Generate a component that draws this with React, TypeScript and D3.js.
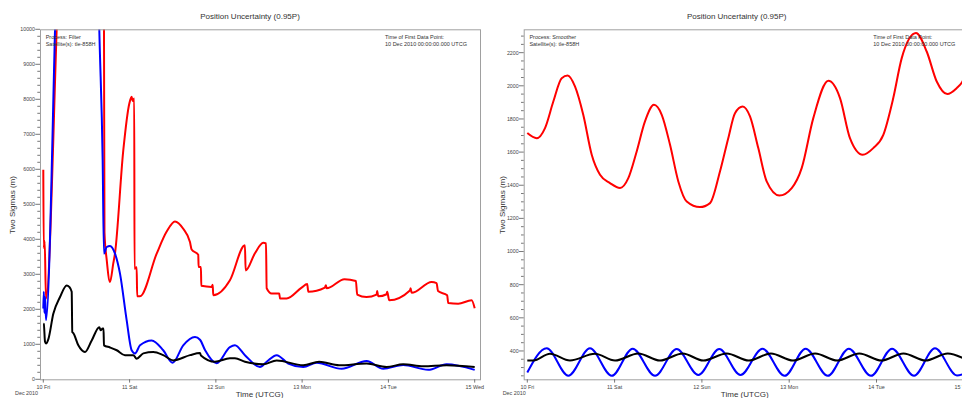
import React from 'react';
import * as d3 from 'd3';

// ---- tick labels ----
const dayLabels = ['10 Fri', '11 Sat', '12 Sun', '13 Mon', '14 Tue', '15 Wed'];
const dayTicks = [0, 1, 2, 3, 4, 5];
const filterYTicks = [0, 1000, 2000, 3000, 4000, 5000, 6000, 7000, 8000, 9000, 10000];
const smootherYTicks = [400, 600, 800, 1000, 1200, 1400, 1600, 1800, 2000, 2200];

// ---- Filter (left) : time in days since 10 Dec 00:00, value in m ----
const filterRedT = [0, 0.005, 0.016, 0.031, 0.155, 0.2, 0.69, 0.703, 0.709, 0.735, 0.773, 0.811, 0.831, 0.927, 0.997, 1.024, 1.036, 1.054, 1.057, 1.082, 1.088, 1.12, 1.314, 1.43, 1.526, 1.622, 1.7, 1.719, 1.796, 1.8, 1.827, 1.831, 1.951, 1.963, 1.97, 2.163, 2.337, 2.345, 2.453, 2.549, 2.581, 2.589, 2.647, 2.735, 2.743, 2.82, 2.994, 3.059, 3.071, 3.264, 3.275, 3.284, 3.491, 3.623, 3.638, 3.746, 3.863, 3.869, 3.882, 3.979, 3.986, 4.009, 4.249, 4.257, 4.269, 4.501, 4.558, 4.575, 4.681, 4.693, 4.809, 4.964, 5.0];
const filterRedV = [5990, 3750, 3950, 2300, 10000, 13500, 13500, 10500, 4200, 3410, 2780, 3310, 3600, 6540, 7880, 8070, 7950, 8020, 3160, 3200, 2370, 2370, 3590, 4220, 4510, 4300, 3920, 3710, 3560, 3210, 3210, 2670, 2640, 2700, 2400, 2830, 3830, 3110, 3600, 3900, 3880, 2600, 2450, 2450, 2310, 2310, 2620, 2720, 2500, 2620, 2690, 2600, 2860, 2810, 2420, 2350, 2420, 2520, 2370, 2430, 2500, 2260, 2540, 2600, 2470, 2780, 2750, 2520, 2400, 2180, 2160, 2260, 2030];

const filterBlueT = [0, 0.006, 0.013, 0.022, 0.031, 0.136, 0.17, 0.62, 0.649, 0.688, 0.703, 0.735, 0.773, 0.831, 0.889, 0.966, 1.024, 1.063, 1.121, 1.256, 1.39, 1.499, 1.622, 1.758, 1.816, 1.874, 2.009, 2.163, 2.221, 2.337, 2.511, 2.589, 2.705, 2.839, 3.013, 3.168, 3.458, 3.747, 3.94, 4.171, 4.461, 4.674, 5.0];
const filterBlueV = [2020, 2500, 1900, 2350, 1690, 10000, 13500, 13500, 10000, 6260, 3590, 3780, 3810, 3590, 3020, 1690, 830, 740, 970, 1110, 830, 470, 970, 1210, 1130, 840, 460, 920, 970, 690, 350, 500, 690, 450, 350, 470, 300, 520, 300, 410, 270, 430, 270];

const filterBlackT = [0, 0.006, 0.02, 0.031, 0.058, 0.116, 0.194, 0.271, 0.301, 0.329, 0.336, 0.348, 0.406, 0.483, 0.561, 0.649, 0.665, 0.688, 0.698, 0.703, 0.773, 0.851, 0.947, 1.043, 1.082, 1.159, 1.275, 1.39, 1.506, 1.7, 1.816, 1.827, 1.99, 2.163, 2.221, 2.337, 2.549, 2.705, 3.013, 3.197, 3.429, 3.747, 3.979, 4.171, 4.403, 4.674, 5.0];
const filterBlackV = [1590, 1580, 1070, 1020, 1140, 1870, 2350, 2680, 2640, 2500, 1350, 1320, 970, 780, 1110, 1490, 1400, 1450, 1450, 970, 910, 830, 690, 690, 590, 740, 780, 690, 540, 690, 750, 680, 500, 600, 600, 500, 430, 540, 400, 500, 400, 450, 350, 430, 370, 400, 350];

// ---- Smoother (right) ----
const smoothRedT = [0, 0.108, 0.203, 0.298, 0.394, 0.463, 0.546, 0.641, 0.738, 0.833, 0.947, 1.062, 1.157, 1.253, 1.348, 1.451, 1.54, 1.635, 1.73, 1.826, 1.978, 2.093, 2.207, 2.302, 2.379, 2.467, 2.551, 2.646, 2.742, 2.887, 3.029, 3.143, 3.276, 3.448, 3.582, 3.696, 3.842, 3.963, 4.078, 4.192, 4.289, 4.452, 4.575, 4.69, 4.811, 4.919, 4.98, 5.0];
const smoothRedV = [1715, 1684, 1745, 1905, 2046, 2062, 1996, 1825, 1584, 1463, 1413, 1383, 1443, 1604, 1785, 1885, 1825, 1644, 1423, 1302, 1268, 1292, 1483, 1684, 1835, 1875, 1815, 1624, 1423, 1338, 1383, 1503, 1805, 2030, 1926, 1684, 1584, 1624, 1704, 1926, 2167, 2318, 2207, 2026, 1950, 1986, 2022, 2040];

const smoothBlueT = [0, 0.222, 0.47, 0.718, 0.967, 1.207, 1.463, 1.711, 1.959, 2.199, 2.442, 2.694, 2.948, 3.188, 3.442, 3.683, 3.937, 4.178, 4.43, 4.67, 4.922, 5.0];
const smoothBlueV = [270, 416, 250, 416, 250, 414, 250, 412, 255, 412, 255, 414, 250, 414, 250, 414, 250, 414, 250, 416, 252, 262];

const smoothBlackT = [0, 0.069, 0.26, 0.489, 0.775, 1.005, 1.271, 1.52, 1.78, 2.016, 2.284, 2.537, 2.79, 3.044, 3.297, 3.55, 3.803, 4.056, 4.309, 4.562, 4.816, 5.0];
const smoothBlackV = [342, 342, 383, 342, 383, 342, 385, 342, 385, 342, 385, 342, 385, 342, 385, 342, 385, 342, 385, 342, 385, 355];

const FONT = '"Liberation Sans", Arial, sans-serif';

function Panel(props) {
  const { id, frame, xRange, yDomain, majorTicks, minorStep, series, titleX, axisX, yLabelX, decX, process, infoX } = props;
  const x = d3.scaleLinear().domain([0, 5]).range(xRange);
  const y = d3.scaleLinear().domain(yDomain).range([frame.b, frame.t]);
  const minor = d3.range(Math.ceil(yDomain[0] / minorStep) * minorStep, yDomain[1], minorStep)
    .filter((v) => !majorTicks.includes(v));
  const line = d3.line().x((d) => x(d[0])).y((d) => y(d[1])).curve(d3.curveMonotoneX);

  return (
    <g fontFamily={FONT}>
      <defs>
        <clipPath id={id}>
          <rect x={frame.l} y={frame.t} width={frame.r - frame.l} height={frame.b - frame.t} />
        </clipPath>
      </defs>
      <text x={titleX} y={18.7} fontSize={8} textAnchor="middle" fill="#333">Position Uncertainty (0.95P)</text>

      <g clipPath={`url(#${id})`} fill="none" strokeWidth={2} strokeLinejoin="round">
        {series.map((s) => (
          <path key={s.color} d={line(s.t.map((t, i) => [t, s.v[i]]))} stroke={s.color} />
        ))}
      </g>

      <rect x={frame.l + 0.5} y={frame.t + 0.5} width={frame.r - frame.l} height={frame.b - frame.t}
        fill="none" stroke="#a0a0a0" />

      {minor.map((v) => (
        <line key={'m' + v} x1={frame.l - 2.7} x2={frame.l} y1={y(v)} y2={y(v)} stroke="#555" strokeWidth={0.8} />
      ))}
      {majorTicks.map((v) => (
        <g key={'M' + v}>
          <line x1={frame.l - 4.7} x2={frame.l} y1={y(v)} y2={y(v)} stroke="#555" strokeWidth={0.8} />
          <text x={frame.l - 5} y={y(v)} dy="0.35em" fontSize={5.3} textAnchor="end" fill="#444">{v}</text>
        </g>
      ))}

      {dayTicks.map((d, i) => (
        <g key={'d' + d}>
          <line x1={x(d)} x2={x(d)} y1={frame.b} y2={frame.b + 3.3} stroke="#555" strokeWidth={0.8} />
          <text x={x(d)} y={388.6} fontSize={5.4} textAnchor="middle" fill="#444">{dayLabels[i]}</text>
        </g>
      ))}
      <text x={decX} y={395.3} fontSize={5.4} fill="#444">Dec 2010</text>
      <text x={axisX} y={397} fontSize={8} textAnchor="middle" fill="#333">Time (UTCG)</text>
      <text transform={`translate(${yLabelX},205) rotate(-90)`} fontSize={8} textAnchor="middle" fill="#333">Two Sigmas (m)</text>

      <text x={frame.l + 5.7} y={39.3} fontSize={5.5} fill="#333">Process: {process}</text>
      <text x={frame.l + 5.7} y={45.7} fontSize={5.5} fill="#333">Satellite(s): tle-858H</text>
      <text x={infoX} y={39.3} fontSize={5.5} fill="#333">Time of First Data Point:</text>
      <text x={infoX} y={45.7} fontSize={5.5} fill="#333">10 Dec 2010 00:00:00.000 UTCG</text>
    </g>
  );
}

export default function App() {
  return (
    <svg width={962} height={398} style={{ position: 'fixed', left: 0, top: 0, background: '#fff' }}>
      <rect width={962} height={398} fill="#fff" />
      <Panel
        id="clipFilter"
        frame={{ l: 40, r: 480, t: 29.3, b: 379.3 }}
        xRange={[43.3, 474.7]}
        yDomain={[0, 10000]}
        majorTicks={filterYTicks}
        minorStep={200}
        titleX={250}
        axisX={259.5}
        yLabelX={15}
        decX={15}
        infoX={385}
        process="Filter"
        series={[
          { color: '#ff0000', t: filterRedT, v: filterRedV },
          { color: '#0000ff', t: filterBlueT, v: filterBlueV },
          { color: '#000000', t: filterBlackT, v: filterBlackV },
        ]}
      />
      <Panel
        id="clipSmoother"
        frame={{ l: 523.7, r: 966, t: 29.3, b: 379.3 }}
        xRange={[527.3, 963.8]}
        yDomain={[229, 2341]}
        majorTicks={smootherYTicks}
        minorStep={50}
        titleX={736.7}
        axisX={744.7}
        yLabelX={505}
        decX={502.7}
        infoX={873.3}
        process="Smoother"
        series={[
          { color: '#ff0000', t: smoothRedT, v: smoothRedV },
          { color: '#0000ff', t: smoothBlueT, v: smoothBlueV },
          { color: '#000000', t: smoothBlackT, v: smoothBlackV },
        ]}
      />
    </svg>
  );
}
